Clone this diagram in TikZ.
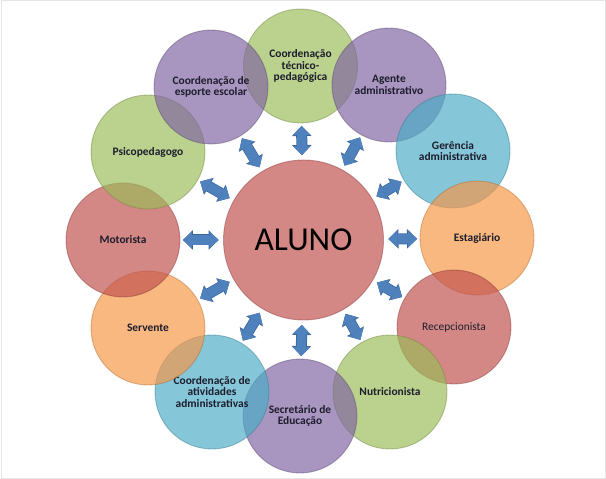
\documentclass[tikz,border=0pt]{standalone}
\usepackage{fontspec}
\setmainfont{Carlito}
\usetikzlibrary{arrows.meta}
\definecolor{rolegreen}{HTML}{9BBB59}
\definecolor{rolepurple}{HTML}{8064A2}
\definecolor{roleaqua}{HTML}{4BACC6}
\definecolor{roleorange}{HTML}{F79646}
\definecolor{rolered}{HTML}{C0504D}
\definecolor{linkblue}{HTML}{4F81BD}
\definecolor{linkdark}{HTML}{3A659B}
\definecolor{labeltext}{HTML}{1C1C2C}
\tikzstyle{role}=[circle, minimum size=22.8mm, inner sep=0pt, fill opacity=0.68, draw opacity=0.45, text opacity=1, line width=0.5pt, align=center, text=labeltext, font=\bfseries\fontsize{6.5}{6.7}\selectfont]
\tikzstyle{green role}=[role, fill=rolegreen, draw=rolegreen!70!black]
\tikzstyle{purple role}=[role, fill=rolepurple, draw=rolepurple!70!black]
\tikzstyle{aqua role}=[role, fill=roleaqua, draw=roleaqua!70!black]
\tikzstyle{orange role}=[role, fill=roleorange, draw=roleorange!70!black]
\tikzstyle{red role}=[role, fill=rolered, draw=rolered!70!black]
\tikzstyle{student}=[red role, minimum size=32mm, text=black, font=\fontsize{19}{19}\selectfont]
\tikzstyle{link}=[linkblue, line width=1.9mm, {Triangle[width=3.5mm,length=1.8mm,line width=0pt]}-{Triangle[width=3.5mm,length=1.8mm,line width=0pt]}, shorten <=0.9mm, shorten >=0.5mm, preaction={draw=linkdark, line width=2.2mm, {Triangle[width=3.9mm,length=2mm,line width=0pt]}-{Triangle[width=3.9mm,length=2mm,line width=0pt]}}]

\begin{document}
\begin{tikzpicture}[x=0.2mm, y=-0.2mm]
      \useasboundingbox (0, 0) rectangle (606, 479);
      \draw[gray!20, line width=0.4pt] (1, 0.5) rectangle (605, 478);

      \node[green role] (tec) at (300.5, 66) {Coordenação\\técnico-\\pedagógica};
      \node[purple role] (agente) at (389, 85) {Agente\\administrativo};
      \node[aqua role] (gerencia) at (453, 151) {Gerência\\administrativa};
      \node[orange role] (estagiario) at (477, 238) {Estagiário};
      \node[red role] (recepcao) at (454, 327) {\mdseries Recepcionista};
      \node[green role] (nutri) at (390, 392) {Nutricionista};
      \node[purple role] (secretario) at (300, 416) {Secretário de\\Educação};
      \node[aqua role] (ativ) at (212, 392) {Coordenação de\\atividades\\administrativas};
      \node[orange role] (servente) at (148, 328) {Servente};
      \node[red role] (motorista) at (123, 240) {Motorista};
      \node[green role] (psico) at (148, 152) {Psicopedagogo};
      \node[purple role] (esporte) at (211, 87) {Coordenação de\\esporte escolar};

      \node[student] (aluno) at (303.5, 240) {ALUNO};

      \draw[link] (aluno) -- (tec);
      \draw[link] (aluno) -- (agente);
      \draw[link] (aluno) -- (gerencia);
      \draw[link] (aluno) -- (estagiario);
      \draw[link] (aluno) -- (recepcao);
      \draw[link] (aluno) -- (nutri);
      \draw[link] (aluno) -- (secretario);
      \draw[link] (aluno) -- (ativ);
      \draw[link] (aluno) -- (servente);
      \draw[link] (aluno) -- (motorista);
      \draw[link] (aluno) -- (psico);
      \draw[link] (aluno) -- (esporte);
    \end{tikzpicture}
\end{document}
